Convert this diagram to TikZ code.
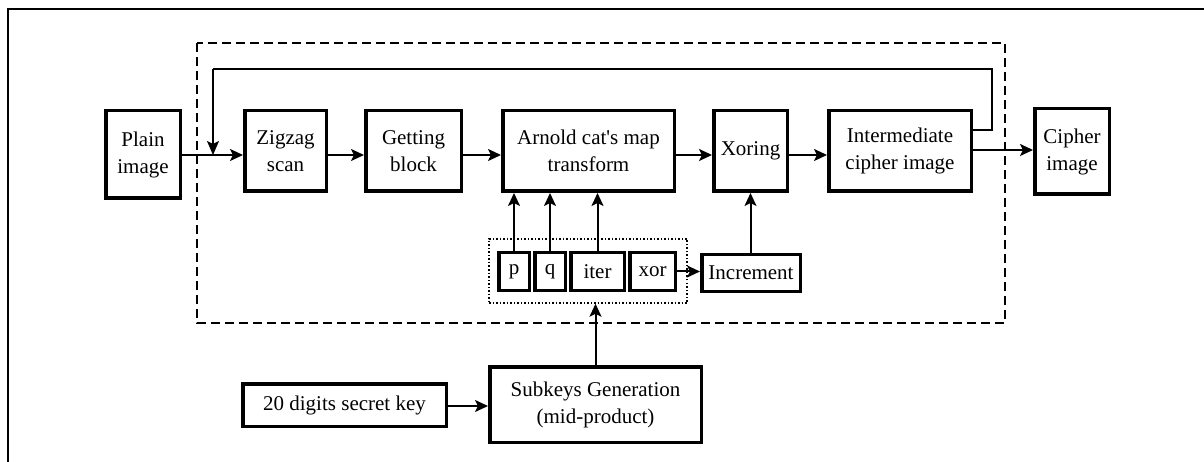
\documentclass[tikz,border=0pt]{standalone}
\usepackage{fontspec}
\setmainfont{Liberation Serif}
\usetikzlibrary{arrows.meta}

\tikzset{
  blk/.style={draw, line width=3.5pt, inner sep=0pt, align=center,
              font=\fontsize{21}{27}\selectfont},
  arr/.style={line width=2pt, -{Stealth[length=13pt,width=12pt,inset=3pt]}},
  fb/.style={line width=1.6pt},
}

\begin{document}
\begin{tikzpicture}[x=1pt, y=-1pt]
  \useasboundingbox (0,0) rectangle (1204,462);

  % outer frame (top and left edges)
  \draw[line width=2pt] (8,470) -- (8,9) -- (1210,9);

  % encryption loop boundary
  \draw[line width=1.6pt, dash pattern=on 9pt off 5pt] (197,43) rectangle (1005,323);

  % main chain
  \node[blk, minimum width=74.5pt, minimum height=87.5pt]  (plain)  at (143,154.5) {Plain\\image};
  \node[blk, minimum width=81.5pt, minimum height=80.5pt]  (zig)    at (285.5,151) {Zigzag\\scan};
  \node[blk, minimum width=95.5pt, minimum height=80.5pt]  (get)    at (413.5,151) {Getting\\block};
  \node[blk, minimum width=171.5pt, minimum height=80.5pt] (arnold) at (588.5,151) {Arnold cat\textquotesingle s map\\transform};
  \node[blk, minimum width=73.5pt, minimum height=80.5pt]  (xoring) at (750.5,151) {Xoring};
  \node[blk, minimum width=142.5pt, minimum height=80.5pt] (inter)  at (900,151) {Intermediate\\cipher image};
  \node[blk, minimum width=74.5pt, minimum height=85.5pt]  (cipher) at (1072,151.5) {Cipher\\image};

  % subkeys
  \node[draw, line width=1.5pt, dotted, minimum width=198pt, minimum height=64pt, inner sep=0pt] (keys) at (588,271) {};
  \node[blk, minimum width=30.5pt, minimum height=37.5pt] (p)    at (514,271.5) {p};
  \node[blk, minimum width=30.5pt, minimum height=37.5pt] (q)    at (550,271.5) {q};
  \node[blk, minimum width=53.5pt, minimum height=37.5pt] (iter) at (597.5,271.5) {iter};
  \node[blk, minimum width=45.5pt, minimum height=37.5pt] (xor)  at (652.5,271.5) {xor};
  \node[blk, minimum width=98.5pt, minimum height=36.5pt] (incr) at (751,273) {Increment};

  % key schedule
  \node[blk, minimum width=211.5pt, minimum height=75.5pt] (sub)    at (595.5,404.5) {Subkeys Generation\\(mid-product)};
  \node[blk, minimum width=203.5pt, minimum height=42.5pt] (secret) at (344.5,405) {20 digits secret key};

  % flow arrows
  \draw[arr] (plain.east |- 0,155) -- (zig.west |- 0,155);
  \draw[arr] (zig.east |- 0,155) -- (get.west |- 0,155);
  \draw[arr] (get.east |- 0,155) -- (arnold.west |- 0,155);
  \draw[arr] (arnold.east |- 0,155) -- (xoring.west |- 0,155);
  \draw[arr] (xoring.east |- 0,155) -- (inter.west |- 0,155);
  \draw[arr] (inter.east |- 0,150) -- (cipher.west |- 0,150);

  % feedback loop
  \coordinate (fbR) at (992,69);
  \coordinate (fbL) at (213,69);
  \coordinate (fbIn) at (213,155);
  \draw[fb] (inter.east |- 0,130) -- (fbR |- 0,130) -- (fbR) -- (fbL);
  \draw[fb, -{Stealth[length=14pt,width=12pt,inset=3pt]}] (fbL) -- (fbIn);

  % subkey arrows
  \draw[arr] (p.north) -- (p.north |- arnold.south);
  \draw[arr] (q.north) -- (q.north |- arnold.south);
  \draw[arr] (iter.north) -- (iter.north |- arnold.south);
  \draw[arr] (xor.east) -- (incr.west |- xor.east);
  \draw[arr] (incr.north -| xoring.south) -- (xoring.south);
  \draw[arr] (sub.north) -- (sub.north |- keys.south);
  \draw[arr] (secret.east |- 0,406) -- (sub.west |- 0,406);
\end{tikzpicture}
\end{document}
